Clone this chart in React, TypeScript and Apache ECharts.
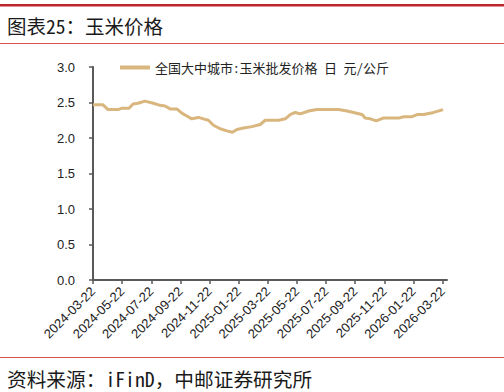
import React, { useEffect, useRef } from "react";
import * as echarts from "echarts";

// months elapsed since 2024-03-22 and price (元/公斤)
const monthsX = [0, 0.67, 1.03, 1.72, 2.0, 2.47, 2.75, 3.09, 3.57, 4.14, 4.6, 4.95, 5.29, 5.75, 6.1, 6.44, 6.78, 7.24, 7.58, 7.92, 8.27, 8.73, 9.19, 9.57, 9.88, 10.33, 10.91, 11.48, 11.82, 12.74, 13.2, 13.54, 13.88, 14.23, 14.8, 15.37, 16.86, 17.44, 18.47, 18.69, 19.04, 19.45, 19.91, 20.98, 21.33, 21.9, 22.25, 22.7, 23.39, 24.03];
const priceY = [2.47, 2.47, 2.4, 2.4, 2.42, 2.42, 2.48, 2.49, 2.52, 2.49, 2.46, 2.45, 2.41, 2.41, 2.35, 2.31, 2.27, 2.29, 2.27, 2.25, 2.18, 2.13, 2.1, 2.08, 2.12, 2.14, 2.16, 2.19, 2.25, 2.25, 2.27, 2.33, 2.36, 2.34, 2.38, 2.4, 2.4, 2.38, 2.33, 2.28, 2.27, 2.24, 2.28, 2.28, 2.3, 2.3, 2.33, 2.33, 2.36, 2.4];
const tickLabels = ["2024-03-22", "2024-05-22", "2024-07-22", "2024-09-22", "2024-11-22", "2025-01-22", "2025-03-22", "2025-05-22", "2025-07-22", "2025-09-22", "2025-11-22", "2026-01-22", "2026-03-22"];
const seriesName = "全国大中城市:玉米批发价格 日 元/公斤";
const titleText = "图表25：玉米价格";
const sourceText = "资料来源：iFinD，中邮证券研究所";

const monoCJK = "'Noto Sans Mono CJK SC', 'Noto Sans CJK SC', monospace";

export default function App() {
  const ref = useRef<HTMLDivElement>(null);
  useEffect(() => {
    if (!ref.current) return;
    const chart = echarts.init(ref.current, null, { renderer: "svg" });
    const axisColor = "#595959";
    chart.setOption({
      animation: false,
      backgroundColor: "#fff",
      graphic: [
        { type: "rect", shape: { x: 0, y: 4, width: 504, height: 2.5 }, style: { fill: "#C0272D" } },
        { type: "rect", shape: { x: 0, y: 43, width: 504, height: 1 }, style: { fill: "#D9534F" } },
        { type: "rect", shape: { x: 0, y: 357, width: 504, height: 1 }, style: { fill: "#D9534F" } },
        {
          type: "text", x: 7, y: 25,
          style: { text: titleText, font: `19.5px ${monoCJK}`, fill: "#1a1a1a", textVerticalAlign: "middle" },
        },
        {
          type: "text", x: 7, y: 378,
          style: { text: sourceText, font: `19.7px ${monoCJK}`, fill: "#1a1a1a", textVerticalAlign: "middle" },
        },
      ],
      legend: {
        left: 115, top: 56,
        icon: "rect", itemWidth: 30, itemHeight: 4, itemGap: 4,
        textStyle: { fontFamily: monoCJK, fontSize: 13, color: "#222" },
        data: [seriesName],
      },
      grid: { left: 93, right: 57, top: 67, bottom: 112, containLabel: false },
      xAxis: {
        type: "value", min: 0, max: 24.3, interval: 2,
        axisLine: { show: true, lineStyle: { color: axisColor, width: 2 } },
        axisTick: { show: true, length: 4, lineStyle: { color: axisColor, width: 1.5 } },
        splitLine: { show: false },
        axisLabel: {
          rotate: 45, fontSize: 13, color: "#222", fontFamily: "Arial, 'Liberation Sans'", margin: 9,
          showMaxLabel: false,
          formatter: (v: number) => {
            const i = Math.round(v / 2);
            return Math.abs(v - i * 2) < 1e-6 && tickLabels[i] ? tickLabels[i] : "";
          },
        },
      },
      yAxis: {
        type: "value", min: 0, max: 3, interval: 0.5,
        axisLine: { show: true, lineStyle: { color: axisColor, width: 2 } },
        axisTick: { show: true, length: 4, lineStyle: { color: axisColor, width: 1.5 } },
        splitLine: { show: false },
        axisLabel: {
          fontSize: 13, color: "#222", fontFamily: "Arial, 'Liberation Sans'", margin: 18,
          formatter: (v: number) => v.toFixed(1),
        },
      },
      series: [
        {
          name: seriesName, type: "line", showSymbol: false, symbol: "none",
          lineStyle: { color: "#D8B67E", width: 3 }, itemStyle: { color: "#D8B67E" },
          data: monthsX.map((x, i) => [x, priceY[i]]),
        },
      ],
    });
    return () => chart.dispose();
  }, []);
  return <div ref={ref} style={{ width: 504, height: 392, position: "absolute", left: 0, top: 0 }} />;
}
